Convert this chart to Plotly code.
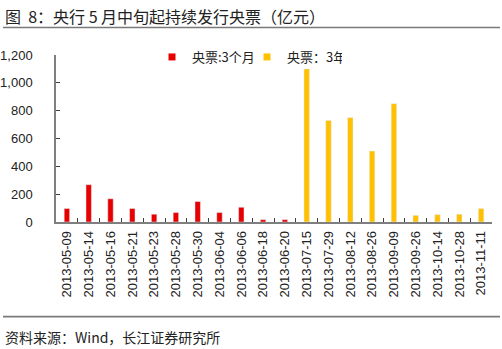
import plotly.graph_objects as go

# Issue dates of central bank bills (CBB)
dates = ["2013-05-09", "2013-05-14", "2013-05-16", "2013-05-21", "2013-05-23",
         "2013-05-28", "2013-05-30", "2013-06-04", "2013-06-06", "2013-06-18",
         "2013-06-20", "2013-07-15", "2013-07-29", "2013-08-12", "2013-08-26",
         "2013-09-09", "2013-09-26", "2013-10-14", "2013-10-28", "2013-11-11"]

# 3-month bills (亿元)
bill_3m = [97, 268, 167, 97, 56, 68, 147, 68, 106, 17, 17,
           None, None, None, None, None, None, None, None, None]
# 3-year bills (亿元)
bill_3y = [None, None, None, None, None, None, None, None, None, None, None,
           1100, 730, 750, 510, 850, 48, 53, 56, 97]

y_ticks = [0, 200, 400, 600, 800, 1000, 1200]
y_tick_text = ["0", "200", "400", "600", "800", "1,000", "1,200"]

RED = "#E60000"
GOLD = "#FFC000"
FONT = "Liberation Sans, Arial, Noto Sans CJK SC"
CJK = "Noto Sans CJK SC, Liberation Sans"

# plot area geometry in pixels (for placing header/footer in paper units)
TOP, BOTTOM, LEFT, WIDTH = 55, 222, 56, 436
H = BOTTOM - TOP


def py(pixel_y):
    return (BOTTOM - pixel_y) / H


def px(pixel_x):
    return (pixel_x - LEFT) / WIDTH


fig = go.Figure()
fig.add_trace(go.Bar(x=dates, y=bill_3m, name="央票:3个月", marker_color=RED,
                     width=0.25, showlegend=False, legendgroup="a"))
fig.add_trace(go.Bar(x=dates, y=bill_3y, name="央票：3年", marker_color=GOLD,
                     width=0.25, showlegend=False, legendgroup="b"))
# legend swatches (small squares)
fig.add_trace(go.Scatter(x=[None], y=[None], mode="markers", name="央票:3个月",
                         marker=dict(symbol="square", size=7, color=RED),
                         legendgroup="a"))
fig.add_trace(go.Scatter(x=[None], y=[None], mode="markers", name="央票：3年",
                         marker=dict(symbol="square", size=7, color=GOLD),
                         legendgroup="b"))

fig.update_layout(
    width=502, height=349,
    margin=dict(l=LEFT, r=502 - LEFT - WIDTH, t=TOP, b=349 - BOTTOM),
    paper_bgcolor="white", plot_bgcolor="white",
    barmode="overlay",
    font=dict(family=FONT, size=13, color="#222222"),
    showlegend=True,
    legend=dict(orientation="h", x=px(152), xanchor="left", y=py(57), yanchor="middle",
                font=dict(family=CJK, size=13, color="#222222"),
                bgcolor="rgba(0,0,0,0)", entrywidth=50, itemwidth=30,
                tracegroupgap=0),
    xaxis=dict(type="category", categoryorder="array", categoryarray=dates,
               range=[-0.5, len(dates) - 0.5], automargin=False,
               showline=True, linecolor="#7f7f7f", linewidth=1.5,
               ticks="inside", ticklen=4, tickcolor="#404040", tickwidth=1,
               tickson="boundaries", tickangle=-90, ticklabelstandoff=2,
               tickfont=dict(family=FONT, size=13, color="#222222"),
               showgrid=False, zeroline=False),
    yaxis=dict(range=[0, 1200], tickvals=y_ticks, ticktext=y_tick_text,
               automargin=False,
               showline=True, linecolor="#7f7f7f", linewidth=1.5,
               ticks="inside", ticklen=4, tickcolor="#404040", tickwidth=1,
               ticklabelstandoff=19,
               tickfont=dict(family=FONT, size=13, color="#222222"),
               showgrid=False, zeroline=False),
)

# header and footer
fig.add_annotation(text="图\u00a0\u00a08：央行 5 月中旬起持续发行央票（亿元）",
                   xref="paper", yref="paper",
                   x=px(3), y=py(15.5), xanchor="left", yanchor="middle", showarrow=False,
                   font=dict(family=CJK, size=16, color="#222222"))
fig.add_annotation(text="资料来源：Wind，长江证券研究所", xref="paper", yref="paper",
                   x=px(3), y=py(337), xanchor="left", yanchor="middle", showarrow=False,
                   font=dict(family=CJK, size=14, color="#222222"))
for line_y in (27.5, 316.7):
    fig.add_shape(type="line", xref="paper", yref="paper",
                  x0=px(3), x1=px(500), y0=py(line_y), y1=py(line_y),
                  line=dict(color="#7a7a7a", width=1.7))

fig.write_html("out.html")
